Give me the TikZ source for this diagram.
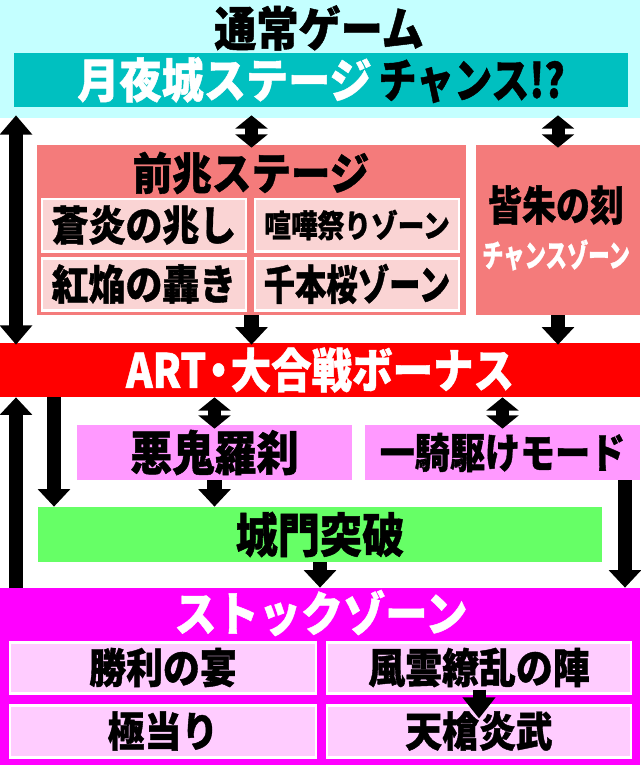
\documentclass[tikz,border=0pt]{standalone}
\usepackage{fontspec}
\setmainfont{Noto Sans CJK JP}[BoldFeatures={FakeBold=1}]
\usepackage{graphicx}
\usetikzlibrary{arrows.meta}
\usetikzlibrary{calc}
\definecolor{normalbg}{HTML}{C4FFFF}
\definecolor{tealbg}{HTML}{00C0C0}
\definecolor{salmonbg}{HTML}{F47B7B}
\definecolor{salmonsub}{HTML}{FAD4D4}
\definecolor{violetbg}{HTML}{FF99FF}
\definecolor{greenbg}{HTML}{66FF66}
\definecolor{stockbg}{HTML}{FF00FF}
\definecolor{stocksub}{HTML}{FFCCFF}
\def\shaft{8.5pt}
\tikzset{box/.style 2 args={draw=none, inner sep=0pt,
    minimum width=#1*0.02cm, minimum height=#2*0.02cm}}
\tikzset{subbox/.style 2 args={box={#1}{#2}, draw=white, line width=1.7pt}}
\tikzset{bigtxt/.style={font=\bfseries\fontsize{24}{26}\selectfont}}
\tikzset{midtxt/.style={font=\bfseries\fontsize{21}{24}\selectfont}}
\tikzset{fwd arrow/.style={line width=\shaft, -{Triangle[width=18pt,length=10pt]}}}
\tikzset{long arrow/.style={line width=\shaft,
    {Triangle[width=18pt,length=11pt]}-{Triangle[width=18pt,length=11pt]}}}
\tikzset{both arrow/.style={line width=7.4pt,
    {Triangle[width=18pt,length=7.5pt]}-{Triangle[width=18pt,length=7.5pt]}}}
\tikzset{small arrow/.style={line width=7.4pt, -{Triangle[width=18pt,length=12pt]}}}
\newcommand{\squeeze}[2]{\scalebox{#1}[1.12]{#2}}

\begin{document}
\begin{tikzpicture}[x=0.02cm,y=-0.02cm]

\useasboundingbox (0,0) rectangle (640,765);

%% normal game
\node[box={640}{118}, fill=normalbg] (normal) at (320,59) {};
\node[bigtxt] (title) at (319,28) {\squeeze{1}{通常ゲーム}};
\node[box={614}{54}, fill=tealbg, bigtxt] (tsukiyo) at (321,80)
  {\squeeze{1}{\textcolor{white}{月夜城ステージ}}\,\squeeze{0.9}{チャンス!?}};

%% zencho stage
\node[box={429}{170}, fill=salmonbg] (zen) at (251.5,230) {};
\node[font=\bfseries\fontsize{22.5}{24}\selectfont] (zentitle) at (251,173) {\squeeze{1}{前兆ステージ}};
\node[subbox={204}{52}, fill=salmonsub, midtxt] (soen) at (144,225) {\squeeze{1}{蒼炎の兆し}};
\node[subbox={204}{52}, fill=salmonsub, font=\bfseries\fontsize{16}{18}\selectfont] (kenka) at (357,225) {\squeeze{0.95}{喧嘩祭りゾーン}};
\node[subbox={204}{52}, fill=salmonsub, midtxt] (koen) at (144,284) {\squeeze{1}{紅焔の轟き}};
\node[subbox={204}{52}, fill=salmonsub, midtxt] (senbon) at (357,284) {\squeeze{0.85}{千本桜ゾーン}};

%% minaake
\node[box={164}{170}, fill=salmonbg] (minaake) at (558,230) {};
\node[midtxt] (minaaketitle) at (556,205) {\squeeze{0.92}{皆朱の刻}};
\node[font=\bfseries\fontsize{16}{18}\selectfont, text=white] (minaakesub) at (556,255) {\squeeze{0.76}{チャンスゾーン}};

%% ART
\node[box={640}{54}, fill=red, bigtxt, text=white] (art) at (320,370)
  {\squeeze{0.96}{ART\hspace{-0.2em}・\hspace{-0.2em}大合戦ボーナス}};

\node[box={275}{55}, fill=violetbg, bigtxt] (akki) at (214.5,452.5) {\squeeze{1}{悪鬼羅刹}};
\node[box={275}{55}, fill=violetbg, midtxt] (ikki) at (502.5,452.5) {\squeeze{0.95}{一騎駆けモード}};
\node[box={564}{55}, fill=greenbg, bigtxt] (jomon) at (320,534.5) {\squeeze{1}{城門突破}};

%% stock zone
\node[box={640}{177}, fill=stockbg] (stock) at (320,676.5) {};
\node[bigtxt, text=white] (stocktitle) at (321,613) {\squeeze{1}{ストックゾーン}};
\node[subbox={306}{51}, fill=stocksub, midtxt] (shori) at (163,667.5) {\squeeze{1}{勝利の宴}};
\node[subbox={304}{51}, fill=stocksub, midtxt] (fuun) at (479,667.5) {\squeeze{1}{風雲繚乱の陣}};
\node[subbox={306}{52}, fill=stocksub, midtxt] (goku) at (163,731) {\squeeze{1}{極当り}};
\node[subbox={304}{52}, fill=stocksub, midtxt] (tenso) at (479,731) {\squeeze{1}{天槍炎武}};

%% arrows
\coordinate (lx) at (16,0);
\coordinate (lx2) at (54,0);
\coordinate (rx) at (625,0);

\draw[long arrow] ([yshift=-0.16cm]tsukiyo.south -| lx) -- ([yshift=-0.04cm]art.north -| lx);
\draw[both arrow] ([yshift=-0.16cm]tsukiyo.south -| zen.north) -- ([yshift=-0.06cm]zen.north);
\draw[both arrow] ([yshift=-0.16cm]tsukiyo.south -| minaake.north) -- ([yshift=-0.06cm]minaake.north);
\draw[fwd arrow] (zen.south) -- ([yshift=-0.04cm]art.north -| zen.south);
\draw[fwd arrow] (minaake.south) -- ([yshift=-0.04cm]art.north -| minaake.south);

\draw[both arrow] (art.south -| akki.north) -- ([yshift=-0.08cm]akki.north);
\draw[both arrow] (art.south -| ikki.north) -- ([yshift=-0.08cm]ikki.north);
\draw[fwd arrow] (stock.north -| lx) -- (art.south -| lx);
\draw[fwd arrow] (art.south -| lx2) -- (jomon.north -| lx2);
\draw[fwd arrow] (akki.south) -- (jomon.north -| akki.south);
\draw[fwd arrow] (ikki.south -| rx) -- (stock.north -| rx);
\draw[fwd arrow] (jomon.south) -- (stock.north);
\draw[small arrow] ([yshift=0.1cm]fuun.south) -- ([yshift=-0.3cm]tenso.north);

\end{tikzpicture}
\end{document}
